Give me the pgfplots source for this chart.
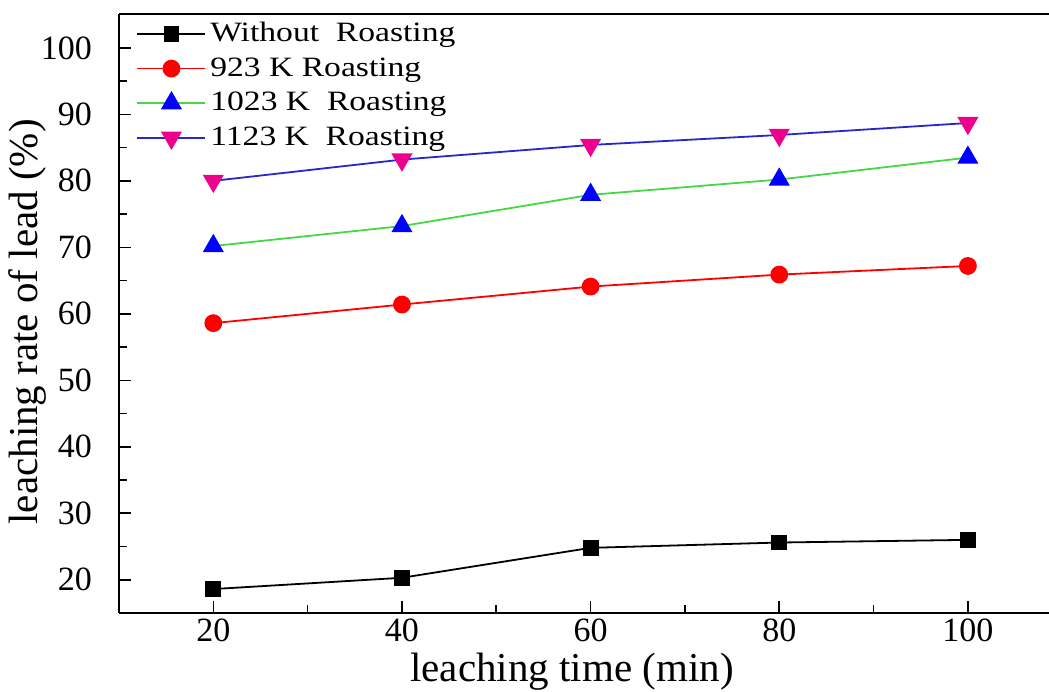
\documentclass[border=0pt]{standalone}
\usepackage{fontspec}
\setmainfont{Liberation Serif}
\newfontfamily\legfont[FakeStretch=1.2]{Liberation Serif}
\usepackage{pgfplots}
\pgfplotsset{compat=1.18}
\definecolor{lgreen}{RGB}{70,215,70}
\definecolor{lblue}{RGB}{40,40,200}
\begin{document}
\begin{tikzpicture}
\begin{axis}[
  scale only axis,
  width=465pt, height=299.5pt,
  xmin=10, xmax=108.6, ymin=15, ymax=105.1,
  clip=false,
  axis lines=left,
  axis line style={-, line width=1pt},
  tick align=inside,
  xtick={20,40,...,100}, ytick={20,30,...,100},
  minor x tick num=1, minor y tick num=1,
  major tick length=6pt, minor tick length=4pt,
  every tick/.style={black, line width=0.8pt},
  tick label style={font=\fontsize{17}{17}\selectfont},
  xticklabel style={yshift=-1.5pt, inner sep=1pt, anchor=north},
  yticklabel style={xshift=-10pt},
  /pgf/number format/assume math mode=true,
  xlabel={leaching time (min)},
  ylabel={leaching rate of lead (\%)},
  xlabel style={font=\fontsize{20.5}{20.5}\selectfont, at={(axis description cs:0.487,-0.115)}, anchor=base, inner sep=0pt},
  ylabel style={font=\fontsize{20.5}{20.5}\selectfont, at={(axis description cs:-0.098,0.486)}, anchor=center, rotate=0},
  legend style={draw=none, fill=none, at={(0.012,1.0)}, anchor=north west,
    font=\legfont\fontsize{14}{14}\selectfont, row sep=2.5pt},
  legend cell align=left,
  legend image code/.code={\draw[mark repeat=2,mark phase=2] plot coordinates {(0pt,0pt) (17pt,0pt) (34pt,0pt)};},
]
\addplot[black, line width=0.9pt, mark=square*, mark size=3.5pt] coordinates {
  (20,18.6) (40,20.3) (60,24.8) (80,25.6) (100,26.0)
};
\addlegendentry{Without~~Roasting}
\addplot[red, line width=0.9pt, mark=*, mark size=4pt, mark options={fill=red}] coordinates {
  (20,58.6) (40,61.4) (60,64.1) (80,65.9) (100,67.2)
};
\addlegendentry{923 K Roasting}
\addplot[lgreen, line width=0.9pt, mark=triangle*, mark size=5.2pt, mark options={blue, fill=blue}] coordinates {
  (20,70.2) (40,73.2) (60,77.9) (80,80.2) (100,83.5)
};
\addlegendentry{1023 K~~Roasting}
\addplot[lblue, line width=0.9pt, mark=triangle*, mark size=5.2pt, mark options={magenta, fill=magenta, rotate=180}] coordinates {
  (20,80.0) (40,83.2) (60,85.4) (80,86.9) (100,88.7)
};
\addlegendentry{1123 K~~Roasting}
\draw[line width=1pt] (rel axis cs:0,1) -- (rel axis cs:1,1);
\end{axis}
\pgfresetboundingbox
\path[use as bounding box] ([xshift=-59.5pt,yshift=-39pt]current axis.south west) rectangle ([yshift=7pt]current axis.north east);
\end{tikzpicture}
\end{document}
